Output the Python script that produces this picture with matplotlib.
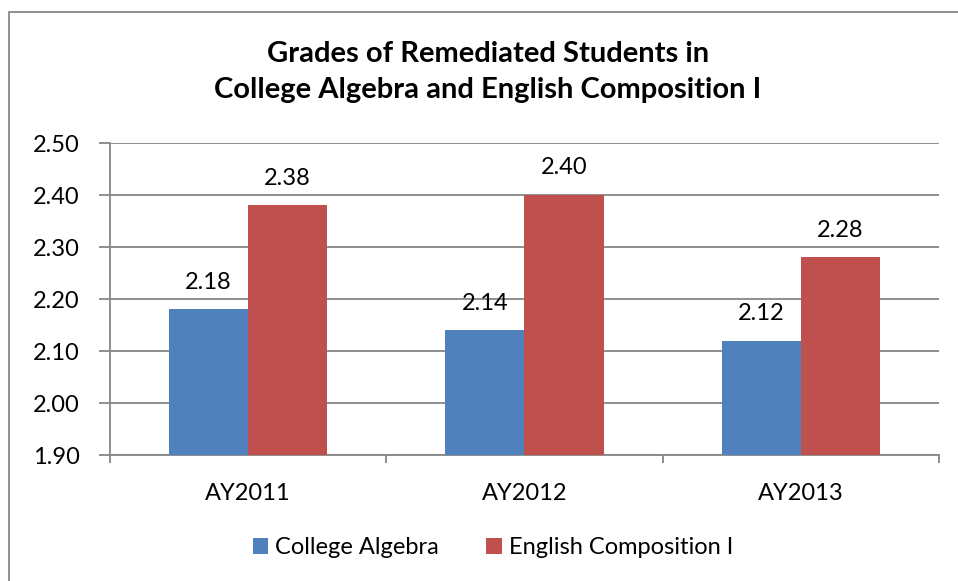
import matplotlib
matplotlib.use("Agg")
import matplotlib.pyplot as plt
import numpy as np
from matplotlib.patches import Rectangle

plt.rcParams['font.family'] = ['Lato', 'DejaVu Sans']

categories = ["AY2011", "AY2012", "AY2013"]
series_names = ["College Algebra", "English Composition I"]
college_algebra = [2.18, 2.14, 2.12]
english_comp = [2.38, 2.40, 2.28]
yticks = [1.90, 2.00, 2.10, 2.20, 2.30, 2.40, 2.50]
title = "Grades of Remediated Students in\nCollege Algebra and English Composition I"

blue = "#4F81BD"
red = "#C0504D"
grid = "#868686"
fs = 17

fig = plt.figure(figsize=(9.58, 5.81), dpi=100)
ax = fig.add_axes([110/958, 1-455/581, (939-110)/958, (455-143)/581])

x = np.arange(len(categories))
w = 0.286
b1 = ax.bar(x - w/2, college_algebra, w, color=blue, label=series_names[0], zorder=3)
b2 = ax.bar(x + w/2, english_comp, w, color=red, label=series_names[1], zorder=3)

ax.set_ylim(1.90, 2.50)
ax.set_xlim(-0.5, len(categories) - 0.5)
ax.set_yticks(yticks)
ax.set_yticklabels([f"{v:.2f}" for v in yticks])
ax.yaxis.grid(True, color=grid, linewidth=1.3, zorder=0)
ax.set_axisbelow(True)

ax.set_xticks(x)
ax.set_xticklabels(categories)
ax.set_xticks(np.arange(len(categories) + 1) - 0.5, minor=True)
ax.tick_params(axis='x', which='major', length=0, pad=20, labelsize=fs)
ax.tick_params(axis='x', which='minor', length=6, width=1.3, color=grid)
ax.tick_params(axis='y', length=8, width=1.3, color=grid, pad=14, labelsize=fs)

for s in ['top', 'right']:
    ax.spines[s].set_visible(False)
for s in ['left', 'bottom']:
    ax.spines[s].set_color(grid)
    ax.spines[s].set_linewidth(1.3)

for bars, vals in ((b1, college_algebra), (b2, english_comp)):
    for rect, v in zip(bars, vals):
        ax.annotate(f"{v:.2f}", (rect.get_x() + rect.get_width()/2, v),
                    xytext=(0, 12), textcoords='offset points',
                    ha='center', va='bottom', fontsize=fs)

fig.text(488/958, 1-72/581, title, ha='center', va='center',
         fontsize=21, fontweight='bold', linespacing=1.45)

fig.legend(handles=[b1, b2], loc='center', bbox_to_anchor=(493/958, 1-548/581),
           ncol=2, frameon=False, fontsize=fs, handlelength=0.65, handleheight=0.65,
           handletextpad=0.3, columnspacing=2.0)

fig.patches.append(Rectangle((9/958, -0.1), 1.2, 1 - 12/581 + 0.1,
                             transform=fig.transFigure, fill=False,
                             edgecolor="#888888", linewidth=1.3))

fig.savefig("out.png", dpi=100)
